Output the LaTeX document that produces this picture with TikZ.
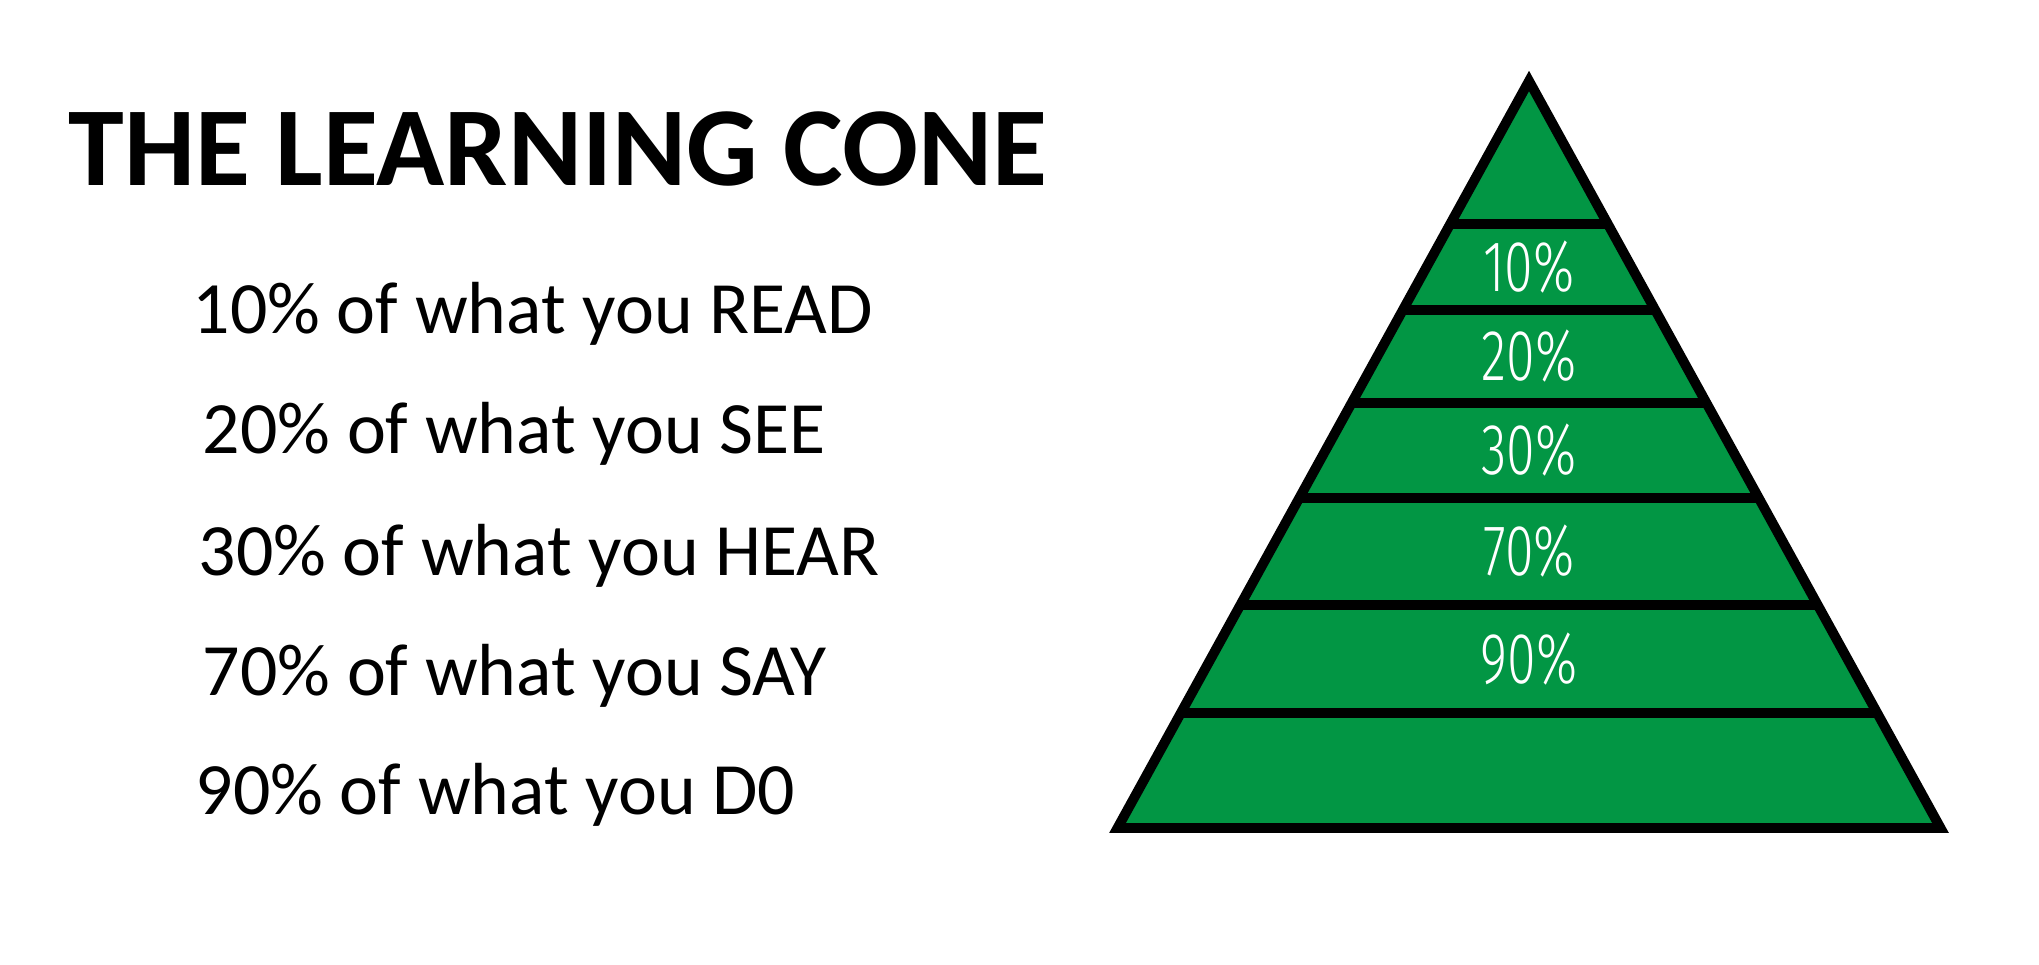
\documentclass[tikz,border=0pt]{standalone}
\usepackage{fontspec}
\setmainfont{Carlito}
\newfontfamily\pctfont[FakeStretch=0.72]{Fira Sans Light}
\usepackage{xcolor}
\usetikzlibrary{calc}
\definecolor{cone}{RGB}{2,150,68}
\colorlet{rim}{black}
\tikzstyle{band}=[rim,line width=2.8pt]

\begin{document}
\begin{tikzpicture}[
    line/.style={anchor=base west,inner sep=0pt,font=\fontsize{21}{25}\selectfont},
    pct/.style={white,inner sep=0pt,font=\pctfont\fontsize{20.5}{24}\selectfont},
  ]
  \useasboundingbox (0,0) rectangle (20.39,9.65);

  \def\xa{15.29}  % apex x
  \def\ya{8.84}   % apex y
  \def\yb{1.37}   % base y
  \def\w{4.115}   % half base width

  % TITLE
  \node[anchor=base west,inner sep=0pt,font=\bfseries\fontsize{32}{37}\selectfont]
    (title) at (0.68,7.79) {THE LEARNING CONE};

  % LINES
  \node[line] (read) at (1.92,6.31) {10\% of what you READ};
  \node[line] (see)  at (2.02,5.11) {20\% of what you SEE};
  \node[line] (hear) at (1.98,3.89) {30\% of what you HEAR};
  \node[line] (say)  at (2.02,2.69) {70\% of what you SAY};
  \node[line] (do)   at (1.95,1.50) {90\% of what you D0};

  % CONE
  \coordinate (apex) at (\xa,\ya);
  \coordinate (bl) at (\xa-\w,\yb);
  \coordinate (br) at (\xa+\w,\yb);
  \filldraw[fill=cone,draw=rim,line width=2.8pt,line join=miter]
    (apex) -- (bl) -- (br) -- cycle;
  \foreach \t in {0.1914,0.3066,0.431,0.558,0.7015,0.846}{
    \draw[band] ($(apex)!\t!(bl)$) -- ($(apex)!\t!(br)$);
  }

  % PERCENTAGES
  \foreach \ta/\tb/\lab/\nm in {0.1914/0.3066/10/p10,0.3066/0.431/20/p20,
                             0.431/0.558/30/p30,0.558/0.7015/70/p70,
                             0.7015/0.846/90/p90}{
    \node[pct] (\nm) at (\xa,{\ya-(\ya-\yb)*(\ta+\tb)/2}) {\lab\%};
  }

\end{tikzpicture}
\end{document}
